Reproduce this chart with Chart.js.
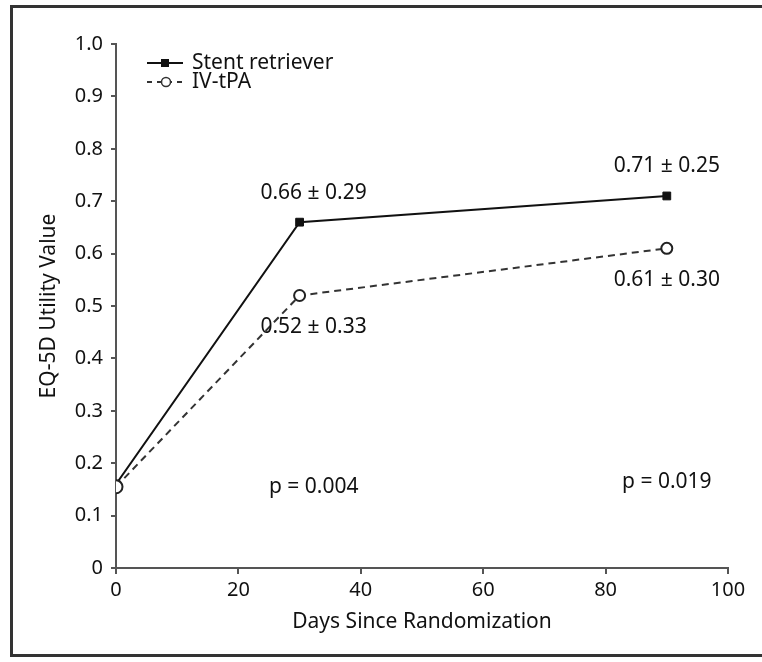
<!DOCTYPE html>
<html>
<head>
<meta charset="utf-8">
<script src="https://cdn.jsdelivr.net/npm/chart.js@4.4.1/dist/chart.umd.min.js"></script>
<style>
    html, body { margin: 0; padding: 0; background: #fff; }
    #wrap { position: relative; width: 762px; height: 662px; overflow: hidden; }
    #frame { position: absolute; left: 10px; top: 5px; width: 780px; height: 652px; border: 3px solid #333; box-sizing: border-box; }
    #c { position: absolute; left: 0; top: 0; }
</style>
</head>
<body>
<div id="wrap">
    <div id="frame"></div>
    <canvas id="c" width="762" height="662"></canvas>
</div>
<script>
// Data
const days = [0, 30, 90];
const stentValues = [0.16, 0.66, 0.71];
const tpaValues = [0.155, 0.52, 0.61];
const yTicks = [0, 0.1, 0.2, 0.3, 0.4, 0.5, 0.6, 0.7, 0.8, 0.9, 1.0];
const xTicks = [0, 20, 40, 60, 80, 100];

// Annotations: [x, y, text, px offset x, px offset y]
const notes = [
    [30, 0.66, '0.66 \u00b1 0.29', 14, -29],
    [90, 0.71, '0.71 \u00b1 0.25', 0, -30],
    [30, 0.52, '0.52 \u00b1 0.33', 14, 31],
    [90, 0.61, '0.61 \u00b1 0.30', 0, 32],
    [31, 0.155, 'p = 0.004', 8, 0],
    [90, 0.16, 'p = 0.019', 0, -2]
];

const fontFamily = "'Noto Sans', sans-serif";
const ink = '#111';
const axisColor = '#555';

const noteLabels = {
    id: 'noteLabels',
    afterDatasetsDraw(chart) {
        const { ctx, scales: { x, y } } = chart;
        ctx.save();
        ctx.font = '21px ' + fontFamily;
        ctx.fillStyle = ink;
        ctx.textAlign = 'center';
        ctx.textBaseline = 'middle';
        notes.forEach(([dx, dy, txt, ox, oy]) => {
            ctx.fillText(txt, x.getPixelForValue(dx) + ox, y.getPixelForValue(dy) + oy);
        });

        // Legend (top left of plot)
        const lx = x.left + 31, ly1 = y.top + 19, ly2 = y.top + 38;
        ctx.strokeStyle = '#111';
        ctx.lineWidth = 2;
        ctx.beginPath();
        ctx.moveTo(lx, ly1); ctx.lineTo(lx + 36, ly1);
        ctx.stroke();
        ctx.fillStyle = '#111';
        ctx.fillRect(lx + 14, ly1 - 4, 8, 8);

        ctx.setLineDash([5, 5]);
        ctx.strokeStyle = '#333';
        ctx.beginPath();
        ctx.moveTo(lx, ly2); ctx.lineTo(lx + 38, ly2);
        ctx.stroke();
        ctx.setLineDash([]);
        ctx.fillStyle = '#fff';
        ctx.beginPath();
        ctx.arc(lx + 19, ly2, 4.5, 0, Math.PI * 2);
        ctx.fill();
        ctx.lineWidth = 1.5;
        ctx.stroke();

        ctx.fillStyle = ink;
        ctx.textAlign = 'left';
        ctx.fillText('Stent retriever', lx + 45, ly1);
        ctx.fillText('IV-tPA', lx + 45, ly2);
        ctx.restore();
    }
};

new Chart(document.getElementById('c').getContext('2d'), {
    type: 'line',
    data: {
        datasets: [
            {
                label: 'IV-tPA',
                data: days.map((d, i) => ({ x: d, y: tpaValues[i] })),
                borderColor: '#333',
                borderWidth: 2,
                borderDash: [7, 5],
                pointStyle: 'circle',
                pointRadius: [6.5, 5.5, 5.5],
                pointBorderWidth: 2,
                pointBackgroundColor: '#fff',
                pointBorderColor: '#222',
                order: 0
            },
            {
                label: 'Stent retriever',
                data: days.map((d, i) => ({ x: d, y: stentValues[i] })),
                borderColor: '#111',
                borderWidth: 2,
                pointStyle: 'rect',
                pointRadius: 5.5,
                pointBorderWidth: 1,
                pointBackgroundColor: '#111',
                pointBorderColor: '#111',
                order: 1
            }
        ]
    },
    options: {
        responsive: false,
        animation: false,
        layout: { padding: { left: 36, right: 34, top: 44, bottom: 27 } },
        plugins: {
            legend: { display: false },
            tooltip: { enabled: false }
        },
        scales: {
            x: {
                type: 'linear',
                min: 0,
                max: 100,
                afterBuildTicks: (axis) => { axis.ticks = xTicks.map(v => ({ value: v })); },
                afterFit: (axis) => { axis.height = 67; },
                grid: { drawOnChartArea: false, drawTicks: true, tickLength: 6, color: axisColor, lineWidth: 2 },
                border: { color: axisColor, width: 2 },
                ticks: { color: ink, font: { size: 20, family: fontFamily }, padding: 4, maxRotation: 0 },
                title: { display: true, text: 'Days Since Randomization', color: ink, font: { size: 21, family: fontFamily }, padding: { top: 4, bottom: 0 } }
            },
            y: {
                type: 'linear',
                min: 0,
                max: 1,
                afterBuildTicks: (axis) => { axis.ticks = yTicks.map(v => ({ value: v })); },
                afterFit: (axis) => { axis.width = 80; },
                grid: { drawOnChartArea: false, drawTicks: true, tickLength: 5, color: axisColor, lineWidth: 2 },
                border: { color: axisColor, width: 2 },
                ticks: {
                    color: ink,
                    font: { size: 20, family: fontFamily },
                    padding: 8,
                    callback: (v) => v === 0 ? '0' : v.toFixed(1)
                },
                title: { display: true, text: 'EQ-5D Utility Value', color: ink, font: { size: 21, family: fontFamily }, padding: { top: 0, bottom: 0 } }
            }
        }
    },
    plugins: [noteLabels]
});
</script>
</body>
</html>
